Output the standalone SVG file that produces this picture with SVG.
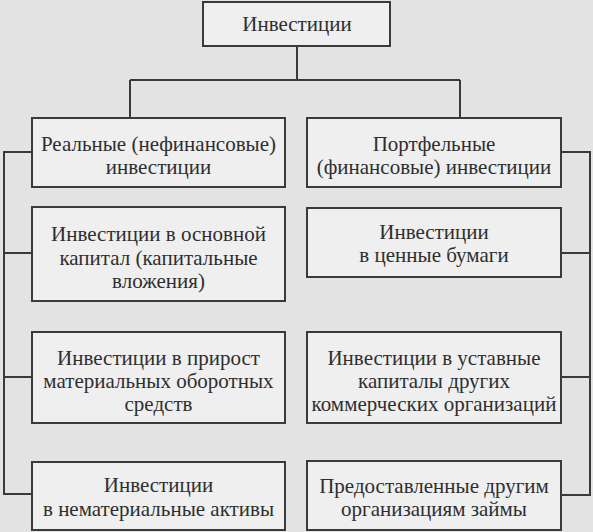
<svg xmlns="http://www.w3.org/2000/svg" width="593" height="532" viewBox="0 0 593 532">
<style>
.box{fill:#efefef;stroke:#3a3a3a;stroke-width:2}
.ln{fill:none;stroke:#3a3a3a;stroke-width:2}
.t{font-family:"Liberation Serif","Tinos","Noto Serif","DejaVu Serif","Times New Roman","FreeSerif",Times,serif;font-size:21px;fill:#2e2e2e;text-anchor:middle}
</style>
<rect width="593" height="532" fill="#e3e3e3"/>
<g id="connectors">
<path class="ln" d="M297 46V80M130 80H460M130 80V118M460 80V118"/>
<path class="ln" d="M32 152H4V494H32M4 253H32M4 377H32"/>
<path class="ln" d="M561 152H590V495H561M590 253H561M590 377H561"/>
</g>
<g class="t">
<g id="n0"><rect class="box" x="203" y="2" width="187" height="44"/><text x="297" y="31">Инвестиции</text></g>
<g id="n1"><rect class="box" x="32" y="118" width="253" height="69"/><text x="158.5" y="151">Реальные (нефинансовые)</text><text x="158.5" y="174">инвестиции</text></g>
<g id="n2"><rect class="box" x="307" y="118" width="254" height="69"/><text x="434" y="151">Портфельные</text><text x="434" y="174">(финансовые) инвестиции</text></g>
<g id="n3"><rect class="box" x="32" y="207" width="253" height="94"/><text x="158.5" y="241">Инвестиции в основной</text><text x="158.5" y="265">капитал (капитальные</text><text x="158.5" y="288">вложения)</text></g>
<g id="n4"><rect class="box" x="307" y="208" width="254" height="69"/><text x="434" y="239">Инвестиции</text><text x="434" y="262">в ценные бумаги</text></g>
<g id="n5"><rect class="box" x="32" y="332" width="253" height="91"/><text x="158.5" y="365">Инвестиции в прирост</text><text x="158.5" y="388">материальных оборотных</text><text x="158.5" y="411">средств</text></g>
<g id="n6"><rect class="box" x="307" y="332" width="254" height="91"/><text x="434" y="365">Инвестиции в уставные</text><text x="434" y="388">капиталы других</text><text x="434" y="411">коммерческих организаций</text></g>
<g id="n7"><rect class="box" x="32" y="462" width="253" height="68"/><text x="158.5" y="492">Инвестиции</text><text x="158.5" y="516">в нематериальные активы</text></g>
<g id="n8"><rect class="box" x="307" y="461" width="254" height="69"/><text x="434" y="493">Предоставленные другим</text><text x="434" y="516">организациям займы</text></g>
</g>
</svg>
